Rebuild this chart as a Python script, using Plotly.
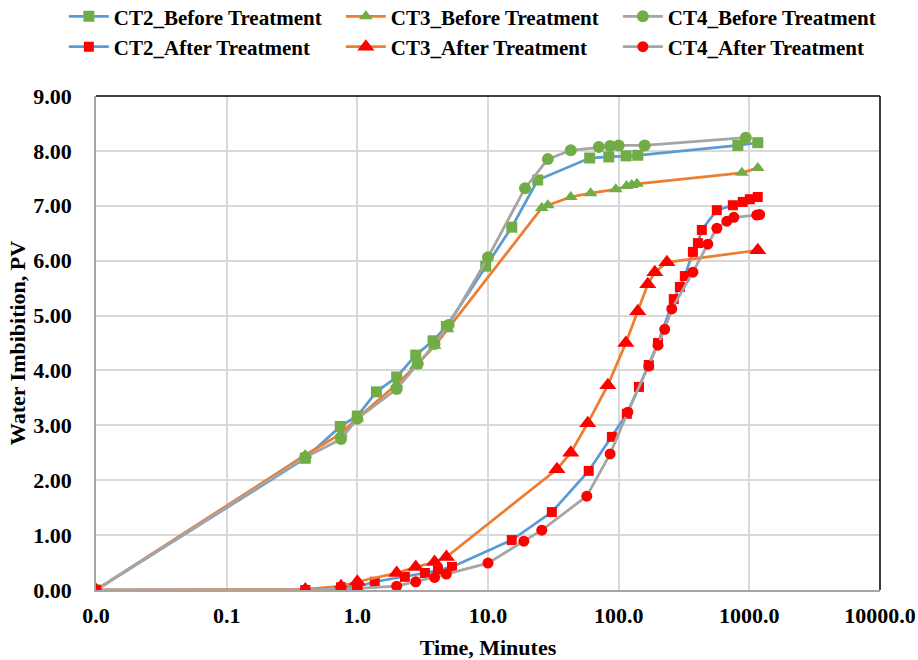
import plotly.graph_objects as go

# ---- data (time in minutes, imbibition in PV) ----
ct2_before_t = [0.01, 0.40, 0.74, 1.0, 1.40, 2.0, 2.8, 3.8, 4.8, 9.6, 15.2, 24, 60, 84, 114, 140, 817, 1160]
ct2_before_v = [0.00, 2.40, 2.98, 3.17, 3.61, 3.88, 4.28, 4.54, 4.80, 5.90, 6.61, 7.47, 7.87, 7.89, 7.91, 7.92, 8.10, 8.15]

ct3_before_t = [0.01, 0.40, 0.75, 1.0, 2.0, 2.8, 3.9, 4.9, 25.8, 28.7, 43, 61, 95, 115, 126, 138, 877, 1160]
ct3_before_v = [0.00, 2.46, 2.85, 3.13, 3.75, 4.08, 4.45, 4.75, 6.96, 7.01, 7.16, 7.23, 7.30, 7.36, 7.38, 7.40, 7.60, 7.69]

ct4_before_t = [0.01, 0.40, 0.75, 1.0, 2.0, 2.9, 3.9, 5.0, 10.0, 19.2, 28.7, 43, 70.5, 86, 100, 158, 940]
ct4_before_v = [0.00, 2.42, 2.75, 3.12, 3.66, 4.12, 4.48, 4.83, 6.06, 7.32, 7.85, 8.01, 8.07, 8.09, 8.10, 8.10, 8.24]

ct2_after_t = [0.01, 0.40, 0.75, 1.0, 1.36, 2.31, 3.29, 4.14, 5.3, 15.2, 30.8, 59, 88.7, 115.5, 143, 170, 200, 264, 294, 321, 370, 404, 433, 564, 748, 891, 1009, 1160]
ct2_after_v = [0.00, 0.00, 0.05, 0.06, 0.15, 0.24, 0.31, 0.36, 0.42, 0.91, 1.42, 2.17, 2.79, 3.21, 3.70, 4.10, 4.50, 5.30, 5.52, 5.72, 6.16, 6.32, 6.56, 6.92, 7.01, 7.07, 7.12, 7.16]

ct3_after_t = [0.01, 0.40, 0.75, 1.0, 2.0, 2.8, 3.9, 4.8, 33.7, 43, 58, 82.6, 113.5, 140, 167, 189, 234, 1160]
ct3_after_v = [0.00, 0.01, 0.07, 0.15, 0.31, 0.42, 0.51, 0.60, 2.20, 2.50, 3.04, 3.73, 4.50, 5.08, 5.57, 5.79, 5.97, 6.19]

ct4_after_t = [0.01, 0.40, 0.75, 1.0, 2.0, 2.8, 3.9, 4.8, 10.0, 18.8, 25.8, 57, 86, 117.5, 170, 200, 225, 255, 370, 481, 564, 673, 761, 1140, 1200]
ct4_after_v = [0.00, 0.00, 0.02, 0.03, 0.07, 0.15, 0.23, 0.29, 0.49, 0.89, 1.09, 1.71, 2.48, 3.24, 4.08, 4.46, 4.75, 5.12, 5.79, 6.30, 6.59, 6.72, 6.79, 6.83, 6.84]

x_tickvals = [0.01, 0.1, 1, 10, 100, 1000, 10000]
x_ticktext = ["0.0", "0.1", "1.0", "10.0", "100.0", "1000.0", "10000.0"]
y_tickvals = [0, 1, 2, 3, 4, 5, 6, 7, 8, 9]

BLUE = "#5B9BD5"
ORANGE = "#ED7D31"
GRAY = "#A5A5A5"
GREEN = "#70AD47"
RED = "#FF0000"

series = [
    ("CT2_Before Treatment", ct2_before_t, ct2_before_v, BLUE, GREEN, "square", 11),
    ("CT3_Before Treatment", ct3_before_t, ct3_before_v, ORANGE, GREEN, "triangle-up", 12),
    ("CT4_Before Treatment", ct4_before_t, ct4_before_v, GRAY, GREEN, "circle", 12),
    ("CT2_After Treatment", ct2_after_t, ct2_after_v, BLUE, RED, "square", 10),
    ("CT3_After Treatment", ct3_after_t, ct3_after_v, ORANGE, RED, "triangle-up", 15),
    ("CT4_After Treatment", ct4_after_t, ct4_after_v, GRAY, RED, "circle", 11),
]

fig = go.Figure()
for name, t, v, lc, mc, sym, sz in series:
    fig.add_trace(go.Scatter(
        x=t, y=v, name=name, mode="lines+markers",
        line=dict(color=lc, width=2.75),
        marker=dict(color=mc, symbol=sym, size=sz, line=dict(width=0)),
    ))

FONT = "Liberation Serif, Times New Roman, serif"

fig.update_layout(
    width=918, height=660,
    margin=dict(l=96, r=38, t=96, b=70, autoexpand=False),
    paper_bgcolor="white", plot_bgcolor="white",
    font=dict(family=FONT, size=22, color="black", weight="bold"),
    showlegend=True,
    legend=dict(
        orientation="h", xref="paper", x=-0.041, xanchor="left",
        yref="paper", y=1.202, yanchor="top",
        entrywidth=222, entrywidthmode="pixels",
        font=dict(family=FONT, size=21, color="black", weight="bold"),
        tracegroupgap=0, itemwidth=40,
    ),
    xaxis=dict(
        type="log", range=[-2, 4],
        tickvals=x_tickvals, ticktext=x_ticktext,
        showgrid=True, gridcolor="#D9D9D9", gridwidth=1.5,
        showline=True, linecolor="#A6A6A6", linewidth=1.5,
        ticks="", ticklabelstandoff=5,
        zeroline=False,
        title=dict(text="Time, Minutes", font=dict(family=FONT, size=22, weight="bold"), standoff=14),
    ),
    yaxis=dict(
        range=[0, 9], tickvals=y_tickvals, tickformat=".2f",
        showgrid=True, gridcolor="#D9D9D9", gridwidth=1.5,
        showline=True, linecolor="#A6A6A6", linewidth=1.5,
        ticks="", ticklabelstandoff=18,
        zeroline=False,
        title=dict(text="Water Imbibition, PV", font=dict(family=FONT, size=22, weight="bold"), standoff=2),
    ),
)

# top and right frame lines
fig.add_shape(type="line", xref="paper", yref="paper", x0=0, x1=1, y0=1, y1=1,
              line=dict(color="black", width=1.5))
fig.add_shape(type="line", xref="paper", yref="paper", x0=1, x1=1, y0=0, y1=1,
              line=dict(color="black", width=1.5))

fig.write_html("out.html")
